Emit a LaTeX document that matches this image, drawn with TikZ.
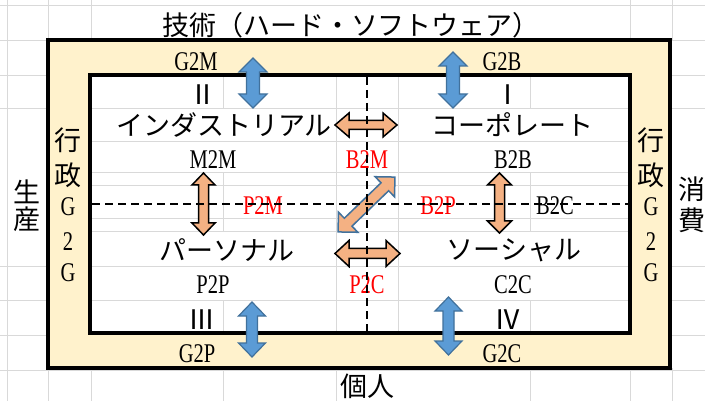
\documentclass[tikz,border=0pt]{standalone}
\usepackage{fontspec}
\setmainfont{Liberation Serif}[FakeStretch=0.76]
\newfontfamily\cjk{Noto Sans CJK JP}
\definecolor{cream}{HTML}{FFF2CC}
\definecolor{gridc}{HTML}{D9D9D9}
\definecolor{blueF}{HTML}{5B9BD5}
\definecolor{blueD}{HTML}{41719C}
\definecolor{orangeF}{HTML}{F4B183}
% #1 style, #2 x, #3 y, #4 angle, #5 half length, #6 head half width, #7 shaft half width, #8 head length
\newcommand\dblarrow[8]{%
  \begin{scope}[shift={(#2,#3)},rotate=#4]
    \path[#1] (-#5,0) -- (-#5+#8,#6) -- (-#5+#8,#7) -- (#5-#8,#7) -- (#5-#8,#6) -- (#5,0)
      -- (#5-#8,-#6) -- (#5-#8,-#7) -- (-#5+#8,-#7) -- (-#5+#8,-#6) -- cycle;
  \end{scope}}
\tikzset{
  gridline/.style={draw=gridc, line width=1pt},
  frame/.style={draw=black, line width=3.5pt},
  bluearr/.style={draw=blueD, fill=blueF, line width=1.2pt, line join=miter},
  orarr/.style={draw=black, fill=orangeF, line width=1.5pt, line join=miter},
  diagarr/.style={draw=blueD, fill=orangeF, line width=1.5pt, line join=miter},
  dline/.style={draw=black, line width=1.4pt, dash pattern=on 8pt off 5pt},
  cj/.style={font=\cjk\fontsize{27}{27}\selectfont, inner sep=0pt},
  lt/.style={font=\fontsize{27}{27}\selectfont, inner sep=0pt},
  rn/.style={font=\cjk\fontsize{27}{27}\selectfont, inner sep=0pt},
}
\begin{document}
\begin{tikzpicture}[x=1pt,y=-1pt]
\useasboundingbox (0,0) rectangle (705,401);
\fill[white] (0,0) rectangle (705,401);
% ---- outer grid ----
\draw[gridline] (0,6) -- (705,6);
\draw[gridline] (0,370) -- (705,370);
\draw[gridline] (7,0) -- (7,401);
\foreach \x in {48,91,630,672} \draw[gridline] (\x,0) -- (\x,40);
\foreach \x in {48,91,223,336,530,630,672} \draw[gridline] (\x,368) -- (\x,401);
\foreach \y in {41,76,109,267,300,335} {
  \draw[gridline] (0,\y) -- (48,\y);
  \draw[gridline] (670,\y) -- (705,\y);
}
% ---- band and inner area ----
\path[fill=cream] (48,40) rectangle (670,368);
\path[fill=white] (90,75) rectangle (630,333);
\foreach \y in {109,142,173,186,219,232,267,300} \draw[gridline] (90,\y) -- (630,\y);
\foreach \x in {336,398} \draw[gridline] (\x,75) -- (\x,333);
\foreach \x in {223,530} {
  \draw[gridline] (\x,75) -- (\x,109);
  \draw[gridline] (\x,173) -- (\x,232);
  \draw[gridline] (\x,300) -- (\x,333);
}
\draw[frame] (48,40) rectangle (670,368);
\draw[frame] (90,75) rectangle (630,333);
% ---- texts ----
\node[cj] (title) at (351,25) {技術（ハード・ソフトウェア）};
\node[cj] (kojin) at (367,386) {個人};
\node[cj] (sei) at (27,192) {生};
\node[cj] (san) at (27,219) {産};
\node[cj] (sho) at (692,189) {消};
\node[cj] (hi) at (692,220) {費};
\node[cj] (lg1) at (68,140) {行};
\node[cj] (lg2) at (68,175) {政};
\node[lt] (lg3) at (68,207) {G};
\node[lt] (lg4) at (68,242) {2};
\node[lt] (lg5) at (68,273) {G};
\node[cj] (rg1) at (651,140) {行};
\node[cj] (rg2) at (651,175) {政};
\node[lt] (rg3) at (651,207) {G};
\node[lt] (rg4) at (651,242) {2};
\node[lt] (rg5) at (651,273) {G};
\node[lt] (g2m) at (196,62) {G2M};
\node[lt] (g2b) at (502,62) {G2B};
\node[lt] (g2p) at (197,354) {G2P};
\node[lt] (g2c) at (502,354) {G2C};
\node[rn] (q2) at (203,95) {Ⅱ};
\node[rn] (q1) at (508,95) {Ⅰ};
\node[rn] (q3) at (202,320) {Ⅲ};
\node[rn] (q4) at (508,320) {Ⅳ};
\node[cj] (ind) at (224,125) {インダストリアル};
\node[cj] (corp) at (512,125) {コーポレート};
\node[cj] (pers) at (227,250) {パーソナル};
\node[cj] (soc) at (514,250) {ソーシャル};
\node[lt] (m2m) at (213,160) {M2M};
\node[lt, red] (b2m) at (367,160) {B2M};
\node[lt] (b2b) at (513,160) {B2B};
\node[lt, red] (p2m) at (263,206) {P2M};
\node[lt, red] (b2p) at (438,206) {B2P};
\node[lt] (b2c) at (555,206) {B2C};
\node[lt] (p2p) at (213,285) {P2P};
\node[lt, red] (p2c) at (367,285) {P2C};
\node[lt] (c2c) at (513,285) {C2C};
% ---- arrows ----
\dblarrow{bluearr}{253}{83}{90}{25}{14}{6.5}{14}
\dblarrow{bluearr}{453}{80}{90}{28}{14}{6.5}{14}
\dblarrow{bluearr}{252}{329.5}{90}{27.5}{13.5}{5.5}{14}
\dblarrow{bluearr}{448.5}{326}{90}{29}{13.5}{5.5}{14}
\dblarrow{orarr}{203.5}{204}{90}{31}{11.5}{5}{12}
\dblarrow{orarr}{499.5}{203}{90}{30}{12}{5}{12}
\dblarrow{orarr}{366}{125}{0}{31}{12}{4.5}{14}
\dblarrow{orarr}{367.5}{253.5}{0}{32.5}{13}{5}{14}
\dblarrow{diagarr}{366.5}{204.5}{44}{39.5}{14}{5.5}{14}
% ---- dashed axes ----
\draw[dline] (367,77) -- (367,332);
\draw[dline] (92,204) -- (628,204);
\end{tikzpicture}
\end{document}
